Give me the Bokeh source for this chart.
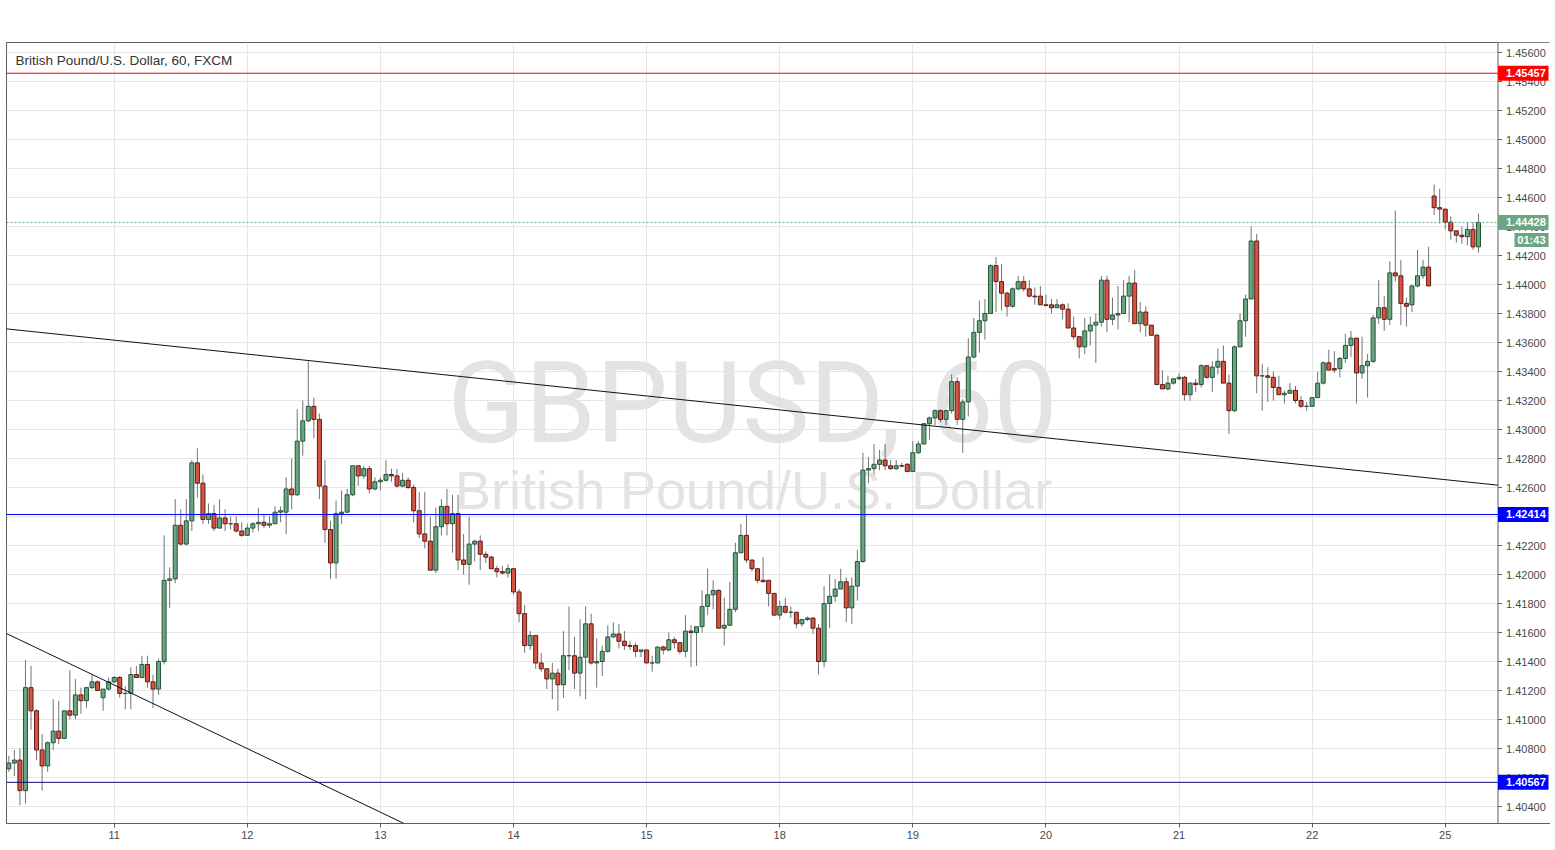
from bokeh.plotting import figure
from bokeh.models import ColumnDataSource, FixedTicker, Label, Grid
from bokeh.embed import file_html
from bokeh.resources import INLINE
from bokeh.core.properties import value

# ---------------- data (GBP/USD hourly, FXCM) ----------------
opens = [
    1.4066, 1.4070, 1.4072, 1.4051, 1.4122, 1.4106, 1.4079, 1.4068, 1.4084, 1.4092,
    1.4087, 1.4106, 1.4103, 1.4117, 1.4113, 1.4122, 1.4126, 1.4115, 1.4121, 1.4126,
    1.4129, 1.4118, 1.4118, 1.4131, 1.4129, 1.4138, 1.4126, 1.4121, 1.4140, 1.4196,
    1.4197, 1.4234, 1.4221, 1.4237, 1.4277, 1.4263, 1.4238, 1.4242, 1.4232, 1.4239,
    1.4235, 1.4235, 1.4230, 1.4227, 1.4232, 1.4235, 1.4236, 1.4234, 1.4235, 1.4243,
    1.4243, 1.4259, 1.4255, 1.4292, 1.4306, 1.4316, 1.4307, 1.4261, 1.4231, 1.4208,
    1.4242, 1.4243, 1.4255, 1.4275, 1.4268, 1.4273, 1.4259, 1.4264, 1.4265, 1.4269,
    1.4268, 1.4261, 1.4265, 1.4260, 1.4244, 1.4228, 1.4223, 1.4203, 1.4233, 1.4247,
    1.4235, 1.4242, 1.4210, 1.4207, 1.4221, 1.4223, 1.4214, 1.4212, 1.4204, 1.4202,
    1.4201, 1.4204, 1.4188, 1.4173, 1.4151, 1.4158, 1.4139, 1.4135, 1.4128, 1.4132,
    1.4124, 1.4144, 1.4144, 1.4132, 1.4143, 1.4166, 1.4139, 1.4140, 1.4147, 1.4157,
    1.4159, 1.4154, 1.4151, 1.4151, 1.4147, 1.4148, 1.4139, 1.4139, 1.4150, 1.4148,
    1.4155, 1.4153, 1.4147, 1.4161, 1.4160, 1.4164, 1.4178, 1.4186, 1.4189, 1.4163,
    1.4165, 1.4176, 1.4215, 1.4227, 1.4210, 1.4204, 1.4196, 1.4196, 1.4187, 1.4172,
    1.4178, 1.4174, 1.4174, 1.4166, 1.4169, 1.4170, 1.4163, 1.4140, 1.4180, 1.4185,
    1.4190, 1.4195, 1.4177, 1.4192, 1.4209, 1.4272, 1.4273, 1.4276, 1.4279, 1.4275,
    1.4273, 1.4275, 1.4276, 1.4271, 1.4284, 1.4290, 1.4304, 1.4308, 1.4313, 1.4307,
    1.4313, 1.4333, 1.4307, 1.4319, 1.4350, 1.4367, 1.4375, 1.4380, 1.4413, 1.4402,
    1.4394, 1.4385, 1.4397, 1.4402, 1.4397, 1.4392, 1.4392, 1.4386, 1.4386, 1.4384,
    1.4386, 1.4383, 1.4370, 1.4364, 1.4357, 1.4368, 1.4372, 1.4374, 1.4403, 1.4376,
    1.4379, 1.4380, 1.4392, 1.4401, 1.4373, 1.4381, 1.4372, 1.4365, 1.4331, 1.4328,
    1.4332, 1.4335, 1.4336, 1.4324, 1.4332, 1.4331, 1.4344, 1.4336, 1.4343, 1.4347,
    1.4332, 1.4313, 1.4357, 1.4375, 1.4390, 1.4430, 1.4337, 1.4337, 1.4336, 1.4329,
    1.4324, 1.4325, 1.4327, 1.4320, 1.4316, 1.4316, 1.4322, 1.4332, 1.4346, 1.4342,
    1.4342, 1.4349, 1.4358, 1.4363, 1.4339, 1.4344, 1.4347, 1.4377, 1.4384, 1.4376,
    1.4408, 1.4406, 1.4387, 1.4386, 1.4399, 1.4406, 1.4412, 1.4461, 1.4453, 1.4452,
    1.4443, 1.4437, 1.4434, 1.4433, 1.4438, 1.4426,
]
highs = [
    1.4075, 1.4079, 1.4080, 1.4141, 1.4137, 1.4107, 1.4090, 1.4085, 1.4114, 1.4113,
    1.4106, 1.4134, 1.4128, 1.4122, 1.4122, 1.4131, 1.4127, 1.4121, 1.4129, 1.4130,
    1.4130, 1.4123, 1.4136, 1.4137, 1.4144, 1.4144, 1.4131, 1.4142, 1.4227, 1.4205,
    1.4252, 1.4245, 1.4252, 1.4279, 1.4287, 1.4269, 1.4249, 1.4248, 1.4252, 1.4245,
    1.4240, 1.4240, 1.4236, 1.4235, 1.4236, 1.4246, 1.4241, 1.4240, 1.4247, 1.4247,
    1.4267, 1.4280, 1.4314, 1.4320, 1.4347, 1.4322, 1.4311, 1.4279, 1.4237, 1.4251,
    1.4258, 1.4259, 1.4275, 1.4275, 1.4275, 1.4275, 1.4267, 1.4267, 1.4279, 1.4273,
    1.4273, 1.4270, 1.4267, 1.4262, 1.4257, 1.4257, 1.4240, 1.4246, 1.4252, 1.4259,
    1.4255, 1.4255, 1.4228, 1.4240, 1.4224, 1.4227, 1.4216, 1.4213, 1.4206, 1.4206,
    1.4207, 1.4204, 1.4190, 1.4179, 1.4161, 1.4158, 1.4146, 1.4135, 1.4139, 1.4135,
    1.4161, 1.4178, 1.4157, 1.4169, 1.4178, 1.4173, 1.4156, 1.4151, 1.4165, 1.4167,
    1.4166, 1.4161, 1.4154, 1.4153, 1.4148, 1.4148, 1.4144, 1.4150, 1.4151, 1.4160,
    1.4157, 1.4153, 1.4172, 1.4165, 1.4164, 1.4189, 1.4204, 1.4196, 1.4190, 1.4184,
    1.4195, 1.4222, 1.4235, 1.4241, 1.4210, 1.4204, 1.4212, 1.4196, 1.4187, 1.4182,
    1.4184, 1.4178, 1.4174, 1.4169, 1.4171, 1.4170, 1.4166, 1.4192, 1.4200, 1.4197,
    1.4204, 1.4198, 1.4198, 1.4217, 1.4284, 1.4281, 1.4290, 1.4286, 1.4290, 1.4279,
    1.4279, 1.4277, 1.4277, 1.4292, 1.4292, 1.4304, 1.4309, 1.4314, 1.4314, 1.4313,
    1.4338, 1.4336, 1.4321, 1.4363, 1.4377, 1.4389, 1.4390, 1.4414, 1.4419, 1.4414,
    1.4395, 1.4398, 1.4406, 1.4406, 1.4403, 1.4398, 1.4399, 1.4393, 1.4390, 1.4390,
    1.4387, 1.4387, 1.4378, 1.4364, 1.4377, 1.4378, 1.4380, 1.4406, 1.4406, 1.4391,
    1.4399, 1.4403, 1.4406, 1.4410, 1.4388, 1.4385, 1.4372, 1.4366, 1.4341, 1.4337,
    1.4335, 1.4339, 1.4337, 1.4332, 1.4335, 1.4345, 1.4344, 1.4347, 1.4356, 1.4358,
    1.4338, 1.4358, 1.4380, 1.4393, 1.4440, 1.4435, 1.4345, 1.4343, 1.4340, 1.4337,
    1.4327, 1.4332, 1.4330, 1.4323, 1.4319, 1.4322, 1.4340, 1.4347, 1.4355, 1.4354,
    1.4350, 1.4366, 1.4368, 1.4363, 1.4364, 1.4352, 1.4379, 1.4403, 1.4392, 1.4416,
    1.4451, 1.4417, 1.4391, 1.4400, 1.4424, 1.4417, 1.4426, 1.4469, 1.4466, 1.4452,
    1.4447, 1.4437, 1.4440, 1.4443, 1.4443, 1.4449,
]
lows = [
    1.4064, 1.4061, 1.4041, 1.4042, 1.4093, 1.4072, 1.4051, 1.4064, 1.4079, 1.4083,
    1.4087, 1.4100, 1.4100, 1.4104, 1.4108, 1.4121, 1.4120, 1.4106, 1.4120, 1.4125,
    1.4115, 1.4107, 1.4107, 1.4129, 1.4129, 1.4122, 1.4108, 1.4117, 1.4138, 1.4177,
    1.4194, 1.4220, 1.4220, 1.4230, 1.4253, 1.4235, 1.4235, 1.4230, 1.4232, 1.4230,
    1.4231, 1.4229, 1.4226, 1.4227, 1.4229, 1.4230, 1.4232, 1.4232, 1.4235, 1.4236,
    1.4228, 1.4245, 1.4254, 1.4282, 1.4305, 1.4294, 1.4252, 1.4222, 1.4197, 1.4197,
    1.4235, 1.4243, 1.4254, 1.4261, 1.4266, 1.4256, 1.4258, 1.4258, 1.4264, 1.4264,
    1.4260, 1.4260, 1.4259, 1.4236, 1.4225, 1.4218, 1.4203, 1.4201, 1.4227, 1.4227,
    1.4215, 1.4203, 1.4200, 1.4193, 1.4209, 1.4203, 1.4208, 1.4204, 1.4198, 1.4200,
    1.4198, 1.4186, 1.4167, 1.4146, 1.4148, 1.4135, 1.4133, 1.4121, 1.4114, 1.4106,
    1.4115, 1.4134, 1.4121, 1.4116, 1.4114, 1.4138, 1.4122, 1.4130, 1.4146, 1.4156,
    1.4149, 1.4148, 1.4148, 1.4143, 1.4143, 1.4139, 1.4133, 1.4139, 1.4145, 1.4147,
    1.4149, 1.4145, 1.4143, 1.4136, 1.4137, 1.4160, 1.4172, 1.4176, 1.4163, 1.4151,
    1.4165, 1.4174, 1.4215, 1.4208, 1.4202, 1.4194, 1.4195, 1.4178, 1.4172, 1.4169,
    1.4173, 1.4170, 1.4163, 1.4164, 1.4168, 1.4159, 1.4131, 1.4136, 1.4163, 1.4181,
    1.4190, 1.4167, 1.4166, 1.4182, 1.4208, 1.4263, 1.4269, 1.4272, 1.4272, 1.4272,
    1.4272, 1.4274, 1.4271, 1.4271, 1.4283, 1.4290, 1.4293, 1.4303, 1.4305, 1.4303,
    1.4311, 1.4303, 1.4284, 1.4309, 1.4349, 1.4353, 1.4362, 1.4380, 1.4381, 1.4382,
    1.4378, 1.4384, 1.4396, 1.4395, 1.4391, 1.4386, 1.4386, 1.4385, 1.4380, 1.4384,
    1.4376, 1.4370, 1.4362, 1.4349, 1.4352, 1.4358, 1.4346, 1.4371, 1.4367, 1.4372,
    1.4369, 1.4380, 1.4374, 1.4373, 1.4367, 1.4364, 1.4365, 1.4331, 1.4328, 1.4327,
    1.4331, 1.4334, 1.4320, 1.4320, 1.4326, 1.4329, 1.4335, 1.4326, 1.4338, 1.4332,
    1.4297, 1.4312, 1.4357, 1.4364, 1.4390, 1.4325, 1.4313, 1.4319, 1.4320, 1.4324,
    1.4318, 1.4325, 1.4318, 1.4315, 1.4313, 1.4316, 1.4322, 1.4331, 1.4341, 1.4339,
    1.4336, 1.4346, 1.4350, 1.4318, 1.4335, 1.4322, 1.4346, 1.4373, 1.4368, 1.4372,
    1.4402, 1.4372, 1.4371, 1.4381, 1.4398, 1.4404, 1.4399, 1.4448, 1.4442, 1.4438,
    1.4431, 1.4429, 1.4428, 1.4427, 1.4424, 1.4422,
]
closes = [
    1.4070, 1.4072, 1.4051, 1.4122, 1.4106, 1.4079, 1.4068, 1.4084, 1.4092, 1.4087,
    1.4106, 1.4103, 1.4117, 1.4113, 1.4122, 1.4126, 1.4120, 1.4121, 1.4126, 1.4129,
    1.4118, 1.4118, 1.4131, 1.4129, 1.4138, 1.4126, 1.4121, 1.4140, 1.4196, 1.4197,
    1.4234, 1.4221, 1.4237, 1.4277, 1.4263, 1.4238, 1.4242, 1.4232, 1.4239, 1.4235,
    1.4235, 1.4230, 1.4227, 1.4232, 1.4235, 1.4236, 1.4234, 1.4235, 1.4243, 1.4244,
    1.4259, 1.4255, 1.4292, 1.4306, 1.4316, 1.4307, 1.4261, 1.4231, 1.4208, 1.4242,
    1.4243, 1.4255, 1.4275, 1.4268, 1.4273, 1.4259, 1.4264, 1.4265, 1.4269, 1.4268,
    1.4261, 1.4265, 1.4260, 1.4244, 1.4228, 1.4223, 1.4203, 1.4233, 1.4247, 1.4235,
    1.4242, 1.4210, 1.4207, 1.4221, 1.4223, 1.4214, 1.4212, 1.4204, 1.4202, 1.4201,
    1.4204, 1.4188, 1.4173, 1.4151, 1.4158, 1.4139, 1.4135, 1.4128, 1.4132, 1.4124,
    1.4144, 1.4144, 1.4132, 1.4143, 1.4166, 1.4139, 1.4140, 1.4147, 1.4157, 1.4159,
    1.4154, 1.4151, 1.41505, 1.4147, 1.4148, 1.4139, 1.4139, 1.4150, 1.4148, 1.4155,
    1.4153, 1.4147, 1.4161, 1.4160, 1.4164, 1.4178, 1.4186, 1.4189, 1.4163, 1.4165,
    1.4176, 1.4215, 1.4227, 1.4210, 1.4204, 1.4196, 1.4195, 1.4187, 1.4172, 1.4178,
    1.4174, 1.4174, 1.4166, 1.4169, 1.4170, 1.4163, 1.4140, 1.4180, 1.4185, 1.4190,
    1.4195, 1.4177, 1.4192, 1.4209, 1.4272, 1.4273, 1.4276, 1.4279, 1.4275, 1.4273,
    1.4275, 1.42748, 1.4271, 1.4284, 1.4290, 1.4304, 1.4308, 1.4313, 1.4307, 1.4313,
    1.4333, 1.4307, 1.4319, 1.4350, 1.4367, 1.4375, 1.4380, 1.4413, 1.4402, 1.4394,
    1.4385, 1.4397, 1.4402, 1.4397, 1.4392, 1.43915, 1.4386, 1.43855, 1.4384, 1.4386,
    1.4383, 1.4370, 1.4364, 1.4357, 1.4368, 1.4372, 1.4374, 1.4403, 1.4376, 1.4379,
    1.4380, 1.4392, 1.4401, 1.4373, 1.4381, 1.4372, 1.4365, 1.4331, 1.4328, 1.4332,
    1.4335, 1.4336, 1.4324, 1.4332, 1.4331, 1.4344, 1.4336, 1.4343, 1.4347, 1.4332,
    1.4313, 1.4357, 1.4375, 1.4390, 1.4430, 1.4337, 1.4337, 1.4336, 1.4329, 1.4324,
    1.4325, 1.4327, 1.4320, 1.4316, 1.4316, 1.4322, 1.4332, 1.4346, 1.4341, 1.4341,
    1.4349, 1.4358, 1.4363, 1.4339, 1.4344, 1.4347, 1.4377, 1.4384, 1.4376, 1.4408,
    1.4406, 1.4387, 1.4385, 1.4399, 1.4406, 1.4412, 1.4399, 1.4453, 1.4452, 1.4443,
    1.4437, 1.4434, 1.4433, 1.4438, 1.4426, 1.44428,
]
assert len(opens) == len(highs) == len(lows) == len(closes)

first_bar_hour = 5                      # trading-hour index of the first visible bar
bar_hours = list(range(first_bar_hour, first_bar_hour + len(opens)))

day_ticks = [24, 48, 72, 96, 120, 144, 168, 192, 216, 240, 264]
day_labels = ["11", "12", "13", "14", "15", "18", "19", "20", "21", "22", "25"]
price_ticks = [1.404, 1.406, 1.408, 1.410, 1.412, 1.414, 1.416, 1.418, 1.420,
               1.422, 1.424, 1.426, 1.428, 1.430, 1.432, 1.434, 1.436, 1.438,
               1.440, 1.442, 1.444, 1.446, 1.448, 1.450, 1.452, 1.454, 1.456]

resistance_level = 1.45457
support_level = 1.42414
low_level = 1.40567
last_price = 1.44428
countdown_text = "01:43"

trend_upper_price = [1.43694, 1.42616]     # at the left and right edges of the bar area
trend_lower_x = [4.58, 76.27]
trend_lower_y = [1.41593, 1.40283]

title_text = "British Pound/U.S. Dollar, 60, FXCM"
wm_big = "GBPUSD, 60"
wm_small = "British Pound/U.S. Dollar"

# ---------------- layout (page pixels) ----------------
FRAME_L, FRAME_T = 6, 42
FRAME_W, FRAME_H = 1544, 781          # frame spans bars + price scale
BARS_RIGHT_PX = 1497.5                # right edge of the bar area
PX_PER_H = 5.546
DAY11_PX = 113.7
X0 = 24 - (DAY11_PX - FRAME_L) / PX_PER_H
X1 = X0 + FRAME_W / PX_PER_H
Y0, Y1 = 1.40283, 1.45669

UP_FILL, UP_LINE = "#6ba583", "#225437"
DN_FILL, DN_LINE = "#d75442", "#5b1a13"
FONT = "Liberation Sans"
AXIS_COL = "#5d5d5d"
LABEL_COL = "#4a4a4a"


def dx(px):
    return X0 + (px - FRAME_L) / PX_PER_H


def dy(py):
    return Y1 - (py - FRAME_T) * (Y1 - Y0) / FRAME_H


PRICE_PER_PX = (Y1 - Y0) / FRAME_H
XR = dx(BARS_RIGHT_PX)

p = figure(frame_width=FRAME_W, frame_height=FRAME_H, x_range=(X0, X1), y_range=(Y0, Y1),
           y_axis_location=None, output_backend="svg", toolbar_location=None,
           min_border_left=FRAME_L, min_border_top=FRAME_T, min_border_bottom=0, min_border_right=0,
           background_fill_color="white", border_fill_color="white")
p.outline_line_color = AXIS_COL

# grids
for g in list(p.xgrid):
    g.ticker = FixedTicker(ticks=day_ticks)
    g.grid_line_color = "#e6e6e6"
for g in list(p.ygrid):
    g.visible = False
p.add_layout(Grid(dimension=1, ticker=FixedTicker(ticks=price_ticks), grid_line_color="#e6e6e6"))

# x axis (real axis)
xa = p.xaxis[0]
xa.ticker = FixedTicker(ticks=day_ticks)
xa.major_label_overrides = {t: l for t, l in zip(day_ticks, day_labels)}
xa.axis_line_color = AXIS_COL
xa.major_tick_line_color = AXIS_COL
xa.major_tick_out = 4
xa.major_tick_in = 0
xa.minor_tick_line_color = None
xa.major_label_text_font = FONT
xa.major_label_text_font_size = "11px"
xa.major_label_text_color = LABEL_COL
xa.major_label_standoff = 3

# watermark (vertically centred on the cap height)
p.text(x=[dx(752)], y=[dy(402)], text=[wm_big],
       text_font=value("Roboto"), text_font_size="114px",
       text_color="#e3e3e3", text_align="center", text_baseline="middle")
p.text(x=[dx(753)], y=[dy(489)], text=[wm_small], text_font=value(FONT), text_font_size="54px",
       text_color="#e3e3e3", text_align="center", text_baseline="middle")

# candles
up = [c >= o for o, c in zip(opens, closes)]
src = ColumnDataSource(dict(
    x=bar_hours, o=opens, h=highs, l=lows, c=closes,
    top=[max(o, c) for o, c in zip(opens, closes)],
    bottom=[min(o, c) for o, c in zip(opens, closes)],
    fill=[UP_FILL if u else DN_FILL for u in up],
    line=[UP_LINE if u else DN_LINE for u in up],
))
p.segment(x0="x", y0="h", x1="x", y1="l", source=src, line_color="#737375", line_width=1)
p.vbar(x="x", width=0.72, top="top", bottom="bottom", source=src,
       fill_color="fill", line_color="line", line_width=1)

# trend lines
p.line([X0, XR], trend_upper_price, line_color="#111111", line_width=1)
p.line(trend_lower_x, trend_lower_y, line_color="#111111", line_width=1)

# horizontal levels (bar area only)
p.segment(x0=[X0], y0=[resistance_level], x1=[XR], y1=[resistance_level], line_color="#ff0000", line_width=1)
p.segment(x0=[X0], y0=[support_level], x1=[XR], y1=[support_level], line_color="#0000ff", line_width=1)
p.segment(x0=[X0], y0=[low_level], x1=[XR], y1=[low_level], line_color="#0a0a6e", line_width=1)
p.segment(x0=[X0], y0=[last_price], x1=[XR], y1=[last_price], line_color=UP_FILL, line_width=1,
          line_dash="2 2")

# ---- price scale on the right ----
p.quad(left=[XR], right=[X1], bottom=[Y0], top=[Y1], fill_color="white", line_color=None)
p.segment(x0=[XR], y0=[Y0], x1=[XR], y1=[Y1], line_color=AXIS_COL, line_width=1)
p.segment(x0=[XR] * len(price_ticks), y0=price_ticks, x1=[XR + 4 / PX_PER_H] * len(price_ticks),
          y1=price_ticks, line_color=AXIS_COL, line_width=1)
p.text(x=[XR + 8 / PX_PER_H] * len(price_ticks), y=price_ticks,
       text=[f"{t:.5f}" for t in price_ticks], text_font=value(FONT), text_font_size="11px",
       text_color=LABEL_COL, text_align="left", text_baseline="middle")

box_levels = [resistance_level, support_level, low_level, last_price]
box_colors = ["#ff0000", "#0000ff", "#0000ff", UP_FILL]
p.quad(left=[XR] * 4, right=[dx(1548)] * 4,
       bottom=[v - 7.5 * PRICE_PER_PX for v in box_levels],
       top=[v + 7.5 * PRICE_PER_PX for v in box_levels],
       fill_color=box_colors, line_color=None)
p.text(x=[XR + 8 / PX_PER_H] * 4, y=box_levels, text=[f"{v:.5f}" for v in box_levels],
       text_font=value(FONT), text_font_size="11px", text_font_style="bold", text_color="white",
       text_align="left", text_baseline="middle")
cd_y = last_price - 17.5 * PRICE_PER_PX
p.quad(left=[dx(1514)], right=[dx(1548)], bottom=[cd_y - 7 * PRICE_PER_PX],
       top=[cd_y + 7 * PRICE_PER_PX], fill_color=UP_FILL, line_color=None)
p.text(x=[dx(1545)], y=[cd_y], text=[countdown_text], text_font=value(FONT), text_font_size="11px",
       text_font_style="bold", text_color="white", text_align="right", text_baseline="middle")

# title
p.add_layout(Label(x=dx(15), y=dy(60), text=title_text, text_font=FONT, text_font_size="13.5px",
                   text_color="#333333", text_baseline="middle", text_align="left"))

open("out.html", "w").write(file_html(p, INLINE))
